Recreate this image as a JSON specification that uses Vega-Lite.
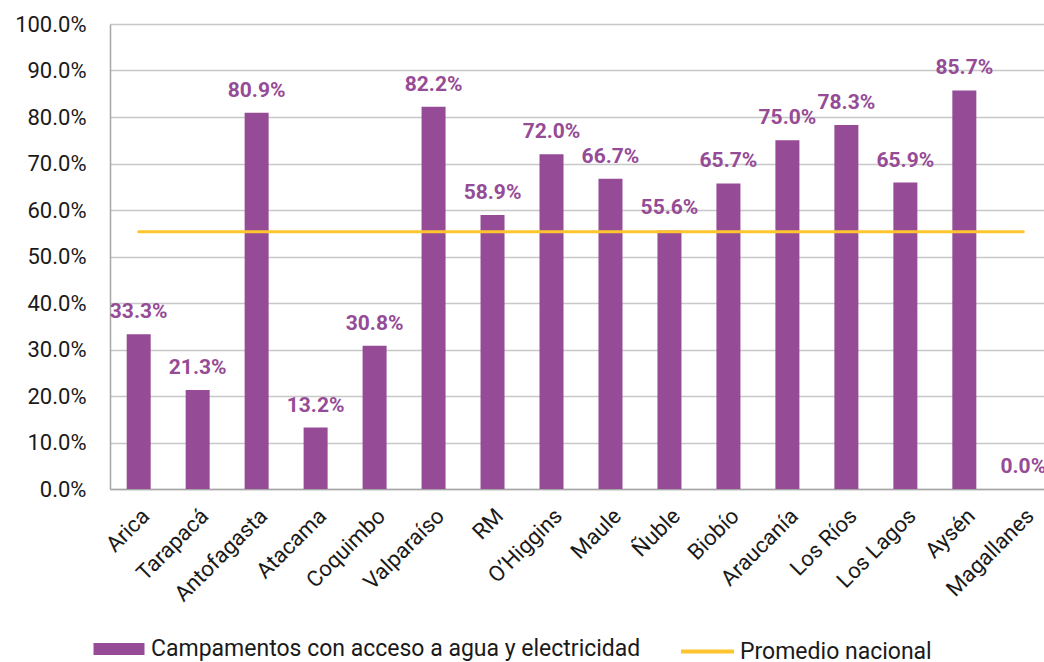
{
  "$schema": "https://vega.github.io/schema/vega-lite/v6.json",
  "autosize": {"type": "none"},
  "width": 934,
  "height": 465,
  "padding": {"left": 110, "top": 24, "right": 0, "bottom": 173},
  "background": "white",
  "config": {
    "font": "Roboto",
    "view": {"stroke": null}
  },
  "data": {
    "values": [
      {"region": "Arica", "valor": 0.333},
      {"region": "Tarapacá", "valor": 0.213},
      {"region": "Antofagasta", "valor": 0.809},
      {"region": "Atacama", "valor": 0.132},
      {"region": "Coquimbo", "valor": 0.308},
      {"region": "Valparaíso", "valor": 0.822},
      {"region": "RM", "valor": 0.589},
      {"region": "O’Higgins", "valor": 0.72},
      {"region": "Maule", "valor": 0.667},
      {"region": "Ñuble", "valor": 0.556},
      {"region": "Biobío", "valor": 0.657},
      {"region": "Araucanía", "valor": 0.75},
      {"region": "Los Ríos", "valor": 0.783},
      {"region": "Los Lagos", "valor": 0.659},
      {"region": "Aysén", "valor": 0.857},
      {"region": "Magallanes", "valor": 0.0}
    ]
  },
  "encoding": {
    "x": {
      "field": "region",
      "type": "nominal",
      "sort": null,
      "title": null,
      "scale": {"paddingInner": 0.593, "paddingOuter": 0.283, "range": [0, 942]},
      "axis": {
        "labelAngle": -45,
        "labelFontSize": 22,
        "labelColor": "#1a1a1a",
        "labelPadding": 16,
        "ticks": false,
        "domainColor": "#a6a6a6",
        "domainWidth": 1.5,
        "grid": false
      }
    }
  },
  "layer": [
    {
      "mark": {"type": "bar", "strokeWidth": 0},
      "encoding": {
        "y": {
          "field": "valor",
          "type": "quantitative",
          "title": null,
          "scale": {"domain": [0, 1], "nice": false},
          "axis": {
            "values": [0, 0.1, 0.2, 0.3, 0.4, 0.5, 0.6, 0.7, 0.8, 0.9, 1.0],
            "format": ".1%",
            "labelFontSize": 22,
            "labelColor": "#1a1a1a",
            "labelPadding": 24,
            "ticks": false,
            "domainColor": "#a6a6a6",
            "domainWidth": 1.5,
            "gridColor": "#c8c8c8",
            "gridWidth": 1.3
          }
        },
        "fill": {
          "datum": "Campamentos con acceso a agua y electricidad",
          "scale": {"range": ["#954B96"]},
          "legend": {
            "title": null,
            "orient": "none",
            "legendX": -4,
            "legendY": 612,
            "labelFontSize": 23,
            "labelColor": "#1a1a1a",
            "labelLimit": 800,
            "symbolType": "M-2,-0.48H2V0.48H-2Z",
            "symbolSize": 650,
            "symbolStrokeWidth": 0,
            "labelOffset": 19
          }
        }
      }
    },
    {
      "mark": {"type": "text", "fontWeight": "bold", "fontSize": 21, "color": "#954B96", "dy": -12, "baseline": "bottom"},
      "encoding": {
        "y": {"field": "valor", "type": "quantitative"},
        "text": {"field": "valor", "type": "quantitative", "format": ".1%"}
      }
    },
    {
      "mark": {"type": "line", "strokeWidth": 3, "strokeCap": "round"},
      "encoding": {
        "y": {"datum": 0.553, "type": "quantitative"},
        "stroke": {
          "datum": "Promedio nacional",
          "scale": {"range": ["#FFC52F"]},
          "legend": {
            "title": null,
            "orient": "none",
            "legendX": 569,
            "legendY": 599,
            "labelFontSize": 23,
            "labelColor": "#1a1a1a",
            "labelLimit": 600,
            "symbolType": "stroke",
            "symbolSize": 2800,
            "symbolStrokeWidth": 4,
            "labelOffset": 4
          }
        }
      }
    }
  ],
  "resolve": {"scale": {"fill": "independent", "stroke": "independent"}}
}
